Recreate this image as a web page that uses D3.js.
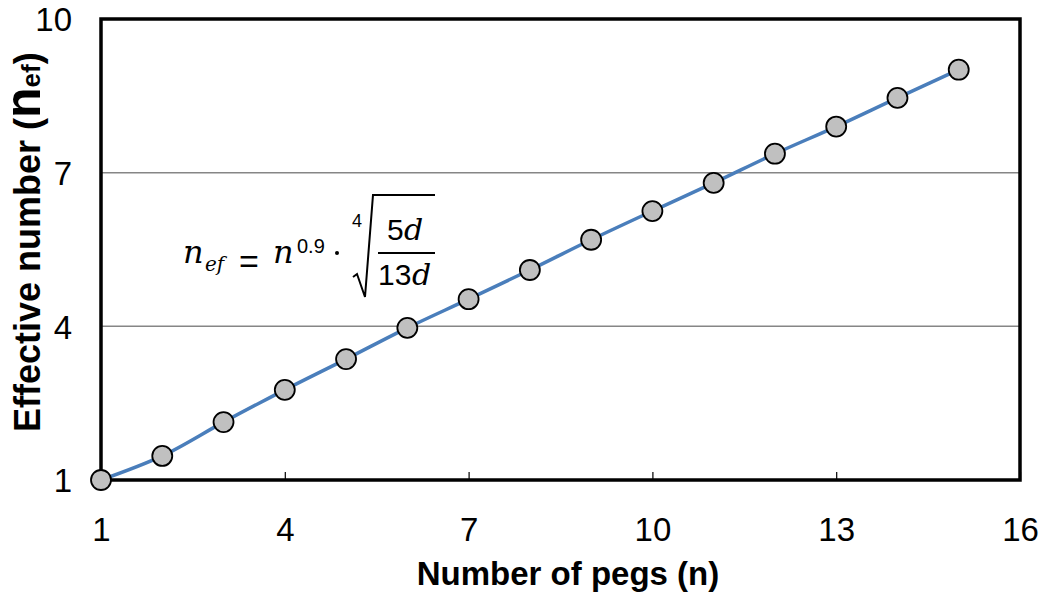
<!doctype html>
<html lang="en">
<head>
    <meta charset="UTF-8">
    <title>effective-number</title>
    <style>
        body { margin: 0; background: #fff; }
        .axis-text { font-family: Arial, "Liberation Sans", sans-serif; font-size: 33px; fill: #000; }
        .title { font-family: Arial, "Liberation Sans", sans-serif; font-weight: bold; font-size: 33px; fill: #000; }
        .grid { stroke: #868686; stroke-width: 1.5px; }
        .curve { fill: none; stroke: #4a7ebb; stroke-width: 3.5px; }
        .dot { fill: #c0c0c0; stroke: #000; stroke-width: 1.8px; }
        .math { font-family: "DejaVu Serif", "Liberation Serif", serif; font-style: italic; fill: #000; }
        .num { font-family: Arial, "Liberation Sans", sans-serif; fill: #000; }
    </style>
</head>
<body>

<svg width="1047" height="599"></svg>

<script src="https://d3js.org/d3.v7.min.js"></script>
<script>
  // pegs vs effective number
  const pegs = [1, 2, 3, 4, 5, 6, 7, 8, 9, 10, 11, 12, 13, 14, 15]
  const effective = [1.0, 1.47, 2.13, 2.76, 3.36, 3.97, 4.53, 5.10, 5.69, 6.25, 6.80, 7.37, 7.90, 8.46, 9.01]
  const xTicks = [1, 4, 7, 10, 13, 16]
  const yTicks = [1, 4, 7, 10]
  const gridValues = [4, 7]

  const svg = d3.select('svg')
  const mLeft = 101, mRight = 1020, mTop = 19, mBottom = 480

  const x = d3.scaleLinear().domain([1, 16]).range([mLeft, mRight])
  const y = d3.scaleLinear().domain([1, 10]).range([mBottom, mTop])

  // gridlines
  svg.append('g')
    .selectAll('line')
    .data(gridValues)
    .enter()
    .append('line')
    .attr('class', 'grid')
    .attr('x1', mLeft).attr('x2', mRight)
    .attr('y1', d => y(d)).attr('y2', d => y(d))

  // x axis ticks (inside) + labels
  const xAxis = d3.axisBottom(x).tickValues(xTicks).tickSizeInner(-8).tickSizeOuter(0).tickPadding(38)
  const gx = svg.append('g').attr('transform', `translate(0,${mBottom})`).call(xAxis)
  gx.select('.domain').remove()
  gx.selectAll('line').attr('stroke', '#000').attr('stroke-width', 1.2)
  gx.selectAll('text').attr('class', 'axis-text').attr('font-size', null).attr('font-family', null).attr('fill', null)

  const yAxis = d3.axisLeft(y).tickValues(yTicks).tickSize(0).tickPadding(29)
  const gy = svg.append('g').attr('transform', `translate(${mLeft},0)`).call(yAxis)
  gy.select('.domain').remove()
  gy.selectAll('text').attr('class', 'axis-text').attr('font-size', null).attr('font-family', null).attr('fill', null)
    .attr('dy', '0.36em')

  // frame
  svg.append('rect')
    .attr('x', mLeft).attr('y', mTop)
    .attr('width', mRight - mLeft).attr('height', mBottom - mTop)
    .attr('fill', 'none').attr('stroke', '#000').attr('stroke-width', 3.5)

  // curve
  const pts = pegs.map((p, i) => [p, effective[i]])
  const line = d3.line().x(d => x(d[0])).y(d => y(d[1])).curve(d3.curveCatmullRom)
  svg.append('path').attr('class', 'curve').attr('d', line(pts))

  svg.append('g')
    .selectAll('circle')
    .data(pts)
    .enter()
    .append('circle')
    .attr('class', 'dot')
    .attr('cx', d => x(d[0]))
    .attr('cy', d => y(d[1]))
    .attr('r', 10)

  // axis titles
  svg.append('text').attr('class', 'title')
    .attr('x', 568).attr('y', 585).attr('text-anchor', 'middle')
    .text('Number of pegs (n)')

  const yt = svg.append('text').attr('class', 'title')
    .attr('transform', 'translate(40,432) rotate(-90)').attr('text-anchor', 'start')
    .style('font-size', '36px')
  yt.append('tspan').text('Effective number (')
  yt.append('tspan').style('font-size', '50px').text('n')
  yt.append('tspan').style('font-size', '26px').text('ef')
  yt.append('tspan').text(')')

  // formula
  const f = svg.append('g')
  f.append('text').attr('class', 'math').attr('x', 183).attr('y', 263).attr('font-size', 32).text('n')
  f.append('text').attr('class', 'math').attr('x', 205).attr('y', 271).attr('font-size', 20).text('ef')
  f.append('text').attr('class', 'num').attr('x', 239).attr('y', 273).attr('font-size', 34).text('=')
  f.append('text').attr('class', 'math').attr('x', 273).attr('y', 263).attr('font-size', 32).text('n')
  f.append('text').attr('class', 'num').attr('x', 297).attr('y', 253).attr('font-size', 20).text('0.9')
  f.append('circle').attr('cx', 337).attr('cy', 253).attr('r', 2).attr('fill', '#000')
  f.append('text').attr('class', 'num').attr('x', 352).attr('y', 227).attr('font-size', 18).text('4')
  f.append('path')
    .attr('d', 'M353,277 L357,274 L365,297 L373,195 L435,195')
    .attr('fill', 'none').attr('stroke', '#000').attr('stroke-width', 2)
  f.append('line').attr('x1', 378).attr('x2', 435).attr('y1', 253).attr('y2', 253).attr('stroke', '#000').attr('stroke-width', 2)
  f.append('text').attr('class', 'num').attr('x', 387).attr('y', 240).attr('font-size', 30).text('5')
  f.append('text').attr('class', 'math').attr('x', 404).attr('y', 240).attr('font-size', 30).text('d')
  f.append('text').attr('class', 'num').attr('x', 378).attr('y', 285).attr('font-size', 30).text('13')
  f.append('text').attr('class', 'math').attr('x', 412).attr('y', 285).attr('font-size', 30).text('d')
</script>
</body>
</html>
